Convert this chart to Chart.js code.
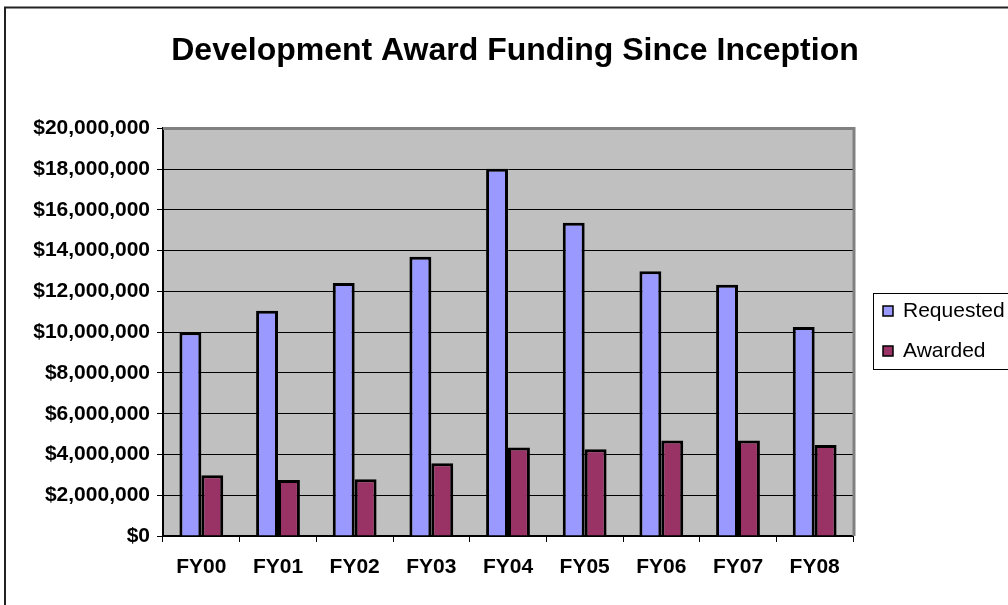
<!DOCTYPE html>
<html>
<head>
<meta charset="utf-8">
<script src="https://cdn.jsdelivr.net/npm/chart.js@4"></script>
<style>
  html, body { margin: 0; padding: 0; background: #fff; }
  #wrap { width: 1008px; height: 605px; position: relative; }
</style>
</head>
<body>
<div id="wrap"><canvas id="myChart" width="1008" height="605"></canvas></div>
<script>
(() => {
  'use strict'

  const years = ['FY00', 'FY01', 'FY02', 'FY03', 'FY04', 'FY05', 'FY06', 'FY07', 'FY08']
  const requested = [10000000, 11050000, 12420000, 13700000, 18020000, 15370000, 12990000, 12330000, 10250000]
  const awarded = [2980000, 2750000, 2790000, 3570000, 4340000, 4260000, 4680000, 4680000, 4470000]
  const seriesNames = ['Requested', 'Awarded']
  const seriesColors = ['#9999ff', '#993366']

  const font = 'Liberation Sans, Arial, sans-serif'

  // grey plot area, grey frame on top/right, outer chart border, boxed legend
  const frame = {
    id: 'frame',
    beforeDraw (chart) {
      const { ctx, chartArea: a } = chart
      ctx.save()
      ctx.fillStyle = '#c0c0c0'
      ctx.fillRect(a.left, a.top, a.right - a.left, a.bottom - a.top)
      ctx.strokeStyle = '#222'
      ctx.lineWidth = 2
      ctx.beginPath()
      ctx.moveTo(5, 605)
      ctx.lineTo(5, 7.5)
      ctx.lineTo(1008, 7.5)
      ctx.stroke()
      ctx.restore()
    },
    beforeDatasetsDraw (chart) {
      const { ctx, chartArea: a } = chart
      ctx.save()
      ctx.strokeStyle = '#808080'
      ctx.lineWidth = 3
      ctx.beginPath()
      ctx.moveTo(a.left, a.top)
      ctx.lineTo(a.right + 1, a.top)
      ctx.lineTo(a.right + 1, a.bottom)
      ctx.stroke()
      ctx.restore()
    },
    afterDraw (chart) {
      const { ctx } = chart
      const x = 873, y = 293, w = 150, h = 76
      ctx.save()
      ctx.fillStyle = '#fff'
      ctx.fillRect(x, y, w, h)
      ctx.strokeStyle = '#000'
      ctx.lineWidth = 1
      ctx.strokeRect(x + 0.5, y + 0.5, w, h)
      ctx.font = '21px ' + font
      ctx.textBaseline = 'middle'
      chart.data.datasets.forEach((ds, i) => {
        const cy = y + 18 + i * 40
        ctx.fillStyle = ds.backgroundColor
        ctx.fillRect(x + 10, cy - 5, 10, 10)
        ctx.strokeStyle = '#000'
        ctx.lineWidth = 1.5
        ctx.strokeRect(x + 10, cy - 5, 10, 10)
        ctx.fillStyle = '#000'
        ctx.fillText(ds.label, x + 30, cy)
      })
      ctx.restore()
    }
  }

  const ctx = document.getElementById('myChart')
  const myChart = new Chart(ctx, {
    type: 'bar',
    data: {
      labels: years,
      datasets: [{
        label: seriesNames[0],
        data: requested,
        backgroundColor: seriesColors[0],
        borderColor: '#000',
        borderWidth: 3,
        borderSkipped: 'bottom'
      }, {
        label: seriesNames[1],
        data: awarded,
        backgroundColor: seriesColors[1],
        borderColor: '#000',
        borderWidth: 3,
        borderSkipped: 'bottom'
      }]
    },
    options: {
      responsive: false,
      animation: false,
      categoryPercentage: 2 / 3.5,
      barPercentage: 1,
      layout: {
        padding: { left: 22, right: 0, top: 0, bottom: 0 }
      },
      scales: {
        x: {
          grid: {
            offset: true,
            drawOnChartArea: false,
            color: '#000',
            tickLength: 6,
            lineWidth: 1
          },
          border: { color: '#000', width: 2 },
          ticks: {
            color: '#000',
            padding: 13,
            font: { family: font, size: 21, weight: 'bold' }
          },
          afterFit (scale) { scale.height = 69 }
        },
        y: {
          min: 0,
          max: 20000000,
          grid: {
            color: '#000',
            lineWidth: 1,
            tickLength: 6
          },
          border: { color: '#000', width: 2 },
          ticks: {
            stepSize: 2000000,
            color: '#000',
            padding: 7,
            font: { family: font, size: 21, weight: 'bold' },
            callback: (v) => '$' + v.toLocaleString('en-US')
          },
          afterFit (scale) { scale.width = 141 }
        },
        // empty right axis that only reserves room for the legend
        yRight: {
          position: 'right',
          display: true,
          grid: { display: false },
          border: { display: false },
          ticks: { display: false },
          afterFit (scale) { scale.width = 155 }
        }
      },
      plugins: {
        legend: { display: false },
        tooltip: { enabled: false },
        title: {
          display: true,
          text: 'Development Award Funding Since Inception',
          color: '#000',
          font: { family: font, size: 32, weight: 'bold' },
          padding: { top: 32, bottom: 58 }
        }
      }
    },
    plugins: [frame]
  })
})()
</script>
</body>
</html>
